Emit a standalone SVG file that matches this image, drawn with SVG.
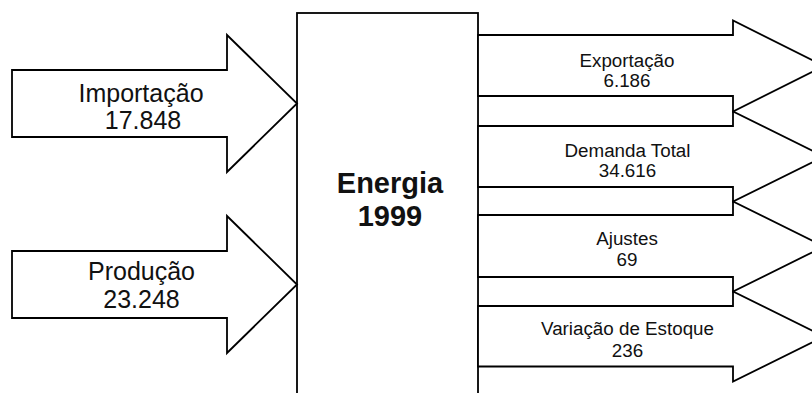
<svg xmlns="http://www.w3.org/2000/svg" width="812" height="393" viewBox="0 0 812 393">
  <style>
    .shape { fill: #ffffff; stroke: #000000; stroke-width: 1.8; stroke-linejoin: miter; }
    .lbl { font-family: "Liberation Sans", Arial, Helvetica, sans-serif; fill: #111111; text-anchor: middle; }
    .in { font-size: 25px; }
    .out { font-size: 18.8px; }
    .title { font-size: 29px; font-weight: bold; }
  </style>
  <rect width="812" height="393" fill="#ffffff"/>

  <!-- central balance block -->
  <g id="energia">
    <rect class="shape" x="297" y="13" width="181" height="400"/>
    <text class="lbl title" x="390" y="193">Energia</text>
    <text class="lbl title" x="390" y="226">1999</text>
  </g>

  <!-- block arrows carrying the flows in and out of the balance -->
  <g id="flows">
    <g id="importacao">
      <polygon class="shape" points="12,70 227,70 227,35 297,103.5 227,172 227,137 12,137"/>
      <text class="lbl in" x="141" y="101.5">Importação</text>
      <text class="lbl in" x="143" y="129">17.848</text>
    </g>
    <g id="producao">
      <polygon class="shape" points="12,251 227,251 227,216 297,284.5 227,353 227,318 12,318"/>
      <text class="lbl in" x="141.5" y="280">Produção</text>
      <text class="lbl in" x="141.5" y="308">23.248</text>
    </g>
    <g id="exportacao">
      <polygon class="shape" points="478,35 733,35 733,20.5 824,66 733,111.5 733,96 478,96"/>
      <text class="lbl out" x="627" y="66.5">Exportação</text>
      <text class="lbl out" x="627" y="86.5">6.186</text>
    </g>
    <g id="demanda">
      <polygon class="shape" points="478,126 733,126 733,111.5 824,156.5 733,201.5 733,187 478,187"/>
      <text class="lbl out" x="627.5" y="156.5">Demanda Total</text>
      <text class="lbl out" x="627.5" y="177">34.616</text>
    </g>
    <g id="ajustes">
      <polygon class="shape" points="478,215 733,215 733,201.5 824,246.5 733,291.5 733,277 478,277"/>
      <text class="lbl out" x="627" y="245">Ajustes</text>
      <text class="lbl out" x="627" y="266">69</text>
    </g>
    <g id="estoque">
      <polygon class="shape" points="478,306 733,306 733,291.5 824,336.5 733,381.5 733,366.5 478,366.5"/>
      <text class="lbl out" x="627.5" y="335">Variação de Estoque</text>
      <text class="lbl out" x="627.5" y="356.5">236</text>
    </g>
  </g>
</svg>
